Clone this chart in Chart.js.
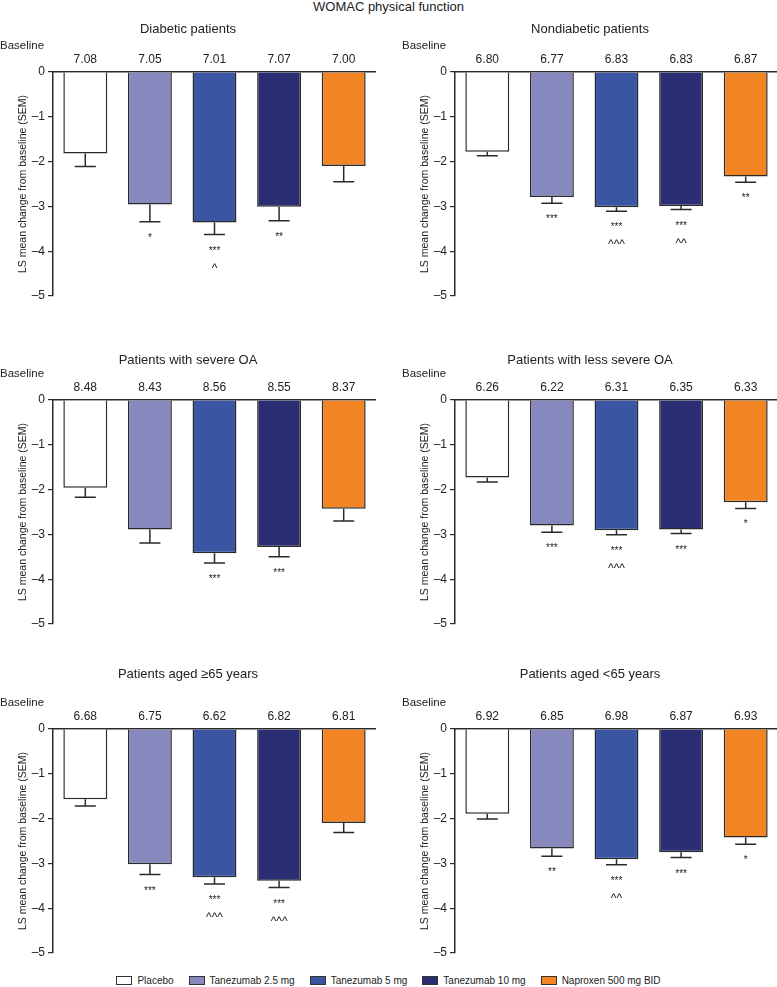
<!DOCTYPE html>
<html lang="en">
<head>
  <meta charset="UTF-8">
  <title>WOMAC physical function</title>
  <script src="https://cdn.jsdelivr.net/npm/chart.js"></script>
  <style>
    body {
      margin: 0;
      width: 777px;
      height: 987px;
      position: relative;
      background: #fff;
      font-family: 'Liberation Sans', Arial, sans-serif;
      color: #222;
      overflow: hidden;
    }
    #mainTitle {
      position: absolute;
      top: -1px;
      left: 0;
      width: 777px;
      text-align: center;
      font-size: 13px;
    }
    .panel {
      position: absolute;
      width: 376px;
      height: 310px;
    }
    #legend {
      position: absolute;
      top: 975px;
      left: 0;
      width: 777px;
      display: flex;
      justify-content: center;
      font-size: 10px;
      gap: 15px;
    }
    #legend .item { display: flex; align-items: center; }
    #legend .box {
      width: 14px;
      height: 7px;
      border: 1px solid #333;
      margin-right: 5px;
    }
  </style>
</head>
<body>
  <div id="mainTitle">WOMAC physical function</div>

  <div class="panel" style="left:0; top:3px;"><canvas id="c0"></canvas></div>
  <div class="panel" style="left:402px; top:3px;"><canvas id="c1"></canvas></div>
  <div class="panel" style="left:0; top:331px;"><canvas id="c2"></canvas></div>
  <div class="panel" style="left:402px; top:331px;"><canvas id="c3"></canvas></div>
  <div class="panel" style="left:0; top:660px;"><canvas id="c4"></canvas></div>
  <div class="panel" style="left:402px; top:660px;"><canvas id="c5"></canvas></div>

  <div id="legend"></div>

  <script>
    // treatment groups, same order in every panel
    const groups = ['Placebo', 'Tanezumab 2.5 mg', 'Tanezumab 5 mg', 'Tanezumab 10 mg', 'Naproxen 500 mg BID'];
    const groupColors = ['#ffffff', '#8788be', '#3a55a2', '#2b2e72', '#f28424'];

    const panelTitles = [
      'Diabetic patients',
      'Nondiabetic patients',
      'Patients with severe OA',
      'Patients with less severe OA',
      'Patients aged \u226565 years',
      'Patients aged <65 years'
    ];

    // baseline WOMAC physical function scores
    const baselines = [
      ['7.08', '7.05', '7.01', '7.07', '7.00'],
      ['6.80', '6.77', '6.83', '6.83', '6.87'],
      ['8.48', '8.43', '8.56', '8.55', '8.37'],
      ['6.26', '6.22', '6.31', '6.35', '6.33'],
      ['6.68', '6.75', '6.62', '6.82', '6.81'],
      ['6.92', '6.85', '6.98', '6.87', '6.93']
    ];

    // LS mean change from baseline
    const lsMeans = [
      [-1.82, -2.96, -3.36, -3.01, -2.10],
      [-1.78, -2.79, -3.02, -2.99, -2.33],
      [-1.96, -2.89, -3.42, -3.28, -2.43],
      [-1.73, -2.80, -2.91, -2.89, -2.28],
      [-1.57, -3.02, -3.31, -3.39, -2.10],
      [-1.89, -2.67, -2.91, -2.75, -2.42]
    ];

    // SEM (drawn downward only)
    const sems = [
      [0.29, 0.38, 0.27, 0.31, 0.35],
      [0.09, 0.14, 0.09, 0.08, 0.13],
      [0.21, 0.30, 0.22, 0.22, 0.27],
      [0.10, 0.15, 0.10, 0.09, 0.14],
      [0.15, 0.23, 0.15, 0.15, 0.21],
      [0.12, 0.17, 0.12, 0.12, 0.15]
    ];

    // significance vs placebo (stars) and vs naproxen (carets)
    const starMarks = [
      ['', '*', '***', '**', ''],
      ['', '***', '***', '***', '**'],
      ['', '', '***', '***', ''],
      ['', '***', '***', '***', '*'],
      ['', '***', '***', '***', ''],
      ['', '**', '***', '***', '*']
    ];
    const caretMarks = [
      ['', '', '^', '', ''],
      ['', '', '^^^', '^^', ''],
      ['', '', '', '', ''],
      ['', '', '^^^', '', ''],
      ['', '', '^^^', '^^^', ''],
      ['', '', '^^', '', '']
    ];

    const yTicks = [0, -1, -2, -3, -4, -5];

    // title placement per row (center of title text, px from canvas top)
    const titleCenters = [26, 26, 29, 29, 14, 14];
    const AREA_TOP = 69;
    const FONT = "'Liberation Sans', Arial, sans-serif";
    const INK = '#222';

    const extrasPlugin = {
      id: 'extras',
      afterDatasetsDraw(chart, args, opts) {
        const ctx = chart.ctx;
        const y = chart.scales.y;
        const area = chart.chartArea;
        const meta = chart.getDatasetMeta(0);
        const i = opts.panel;
        ctx.save();

        // error bars
        ctx.strokeStyle = '#2a2a2a';
        ctx.lineWidth = 1.5;
        meta.data.forEach((bar, k) => {
          const yTop = y.getPixelForValue(lsMeans[i][k]);
          const yEnd = y.getPixelForValue(lsMeans[i][k] - sems[i][k]);
          ctx.beginPath();
          ctx.moveTo(bar.x, yTop);
          ctx.lineTo(bar.x, yEnd);
          ctx.moveTo(bar.x - 10.5, yEnd);
          ctx.lineTo(bar.x + 10.5, yEnd);
          ctx.stroke();

          ctx.fillStyle = INK;
          ctx.textAlign = 'center';
          ctx.textBaseline = 'alphabetic';
          ctx.font = '10px ' + FONT;
          if (starMarks[i][k]) ctx.fillText(starMarks[i][k], bar.x, yEnd + 19);
          ctx.font = '12px ' + FONT;
          if (caretMarks[i][k]) ctx.fillText(caretMarks[i][k], bar.x, yEnd + 37);

          // baseline values above the axis
          ctx.textBaseline = 'middle';
          ctx.font = '12px ' + FONT;
          ctx.fillText(baselines[i][k], bar.x, area.top - 12.5);
        });

        ctx.textAlign = 'left';
        ctx.textBaseline = 'middle';
        ctx.font = '11.5px ' + FONT;
        ctx.fillText('Baseline', 0, area.top - 26);
        ctx.restore();
      }
    };

    function makePanel(i) {
      const c = titleCenters[i];
      new Chart(document.getElementById('c' + i), {
        type: 'bar',
        data: {
          labels: groups,
          datasets: [{
            data: lsMeans[i],
            backgroundColor: groupColors,
            borderColor: '#2a2a2a',
            borderWidth: 1.5,
            borderSkipped: 'start',
            categoryPercentage: 1,
            barPercentage: 0.68
          }]
        },
        options: {
          responsive: true,
          maintainAspectRatio: false,
          animation: false,
          layout: { padding: { top: 0, right: 0, bottom: 17, left: 0 } },
          plugins: {
            legend: { display: false },
            tooltip: { enabled: false },
            title: {
              display: true,
              text: panelTitles[i],
              color: INK,
              font: { family: FONT, size: 13, weight: 'normal', lineHeight: 1.2 },
              padding: { top: c - 7.8, bottom: AREA_TOP - c - 7.8 }
            },
            extras: { panel: i }
          },
          scales: {
            x: {
              position: 'top',
              grid: { display: false },
              ticks: { display: false },
              border: { display: true, color: '#2a2a2a', width: 1.5 },
              afterFit(scale) { scale.height = 0; }
            },
            y: {
              min: -5,
              max: 0,
              afterBuildTicks(scale) {
                scale.ticks = yTicks.map(v => ({ value: v }));
              },
              afterFit(scale) { scale.width = 53; },
              grid: {
                drawOnChartArea: false,
                drawTicks: true,
                tickLength: 5,
                color: '#2a2a2a',
                lineWidth: 1.2
              },
              border: { display: true, color: '#2a2a2a', width: 1.5 },
              ticks: {
                padding: 3,
                color: INK,
                font: { family: FONT, size: 12 },
                callback: v => (v < 0 ? '\u2013' + Math.abs(v) : String(v))
              },
              title: {
                display: true,
                text: 'LS mean change from baseline (SEM)',
                color: INK,
                font: { family: FONT, size: 10.5 },
                padding: { top: 16.7, bottom: 0 }
              }
            }
          }
        },
        plugins: [extrasPlugin]
      });
    }

    for (let i = 0; i < panelTitles.length; i++) makePanel(i);

    // shared legend
    const legend = document.getElementById('legend');
    groups.forEach((g, k) => {
      const item = document.createElement('div');
      item.className = 'item';
      const box = document.createElement('span');
      box.className = 'box';
      box.style.background = groupColors[k];
      const label = document.createElement('span');
      label.textContent = g;
      item.appendChild(box);
      item.appendChild(label);
      legend.appendChild(item);
    });
  </script>
</body>
</html>
